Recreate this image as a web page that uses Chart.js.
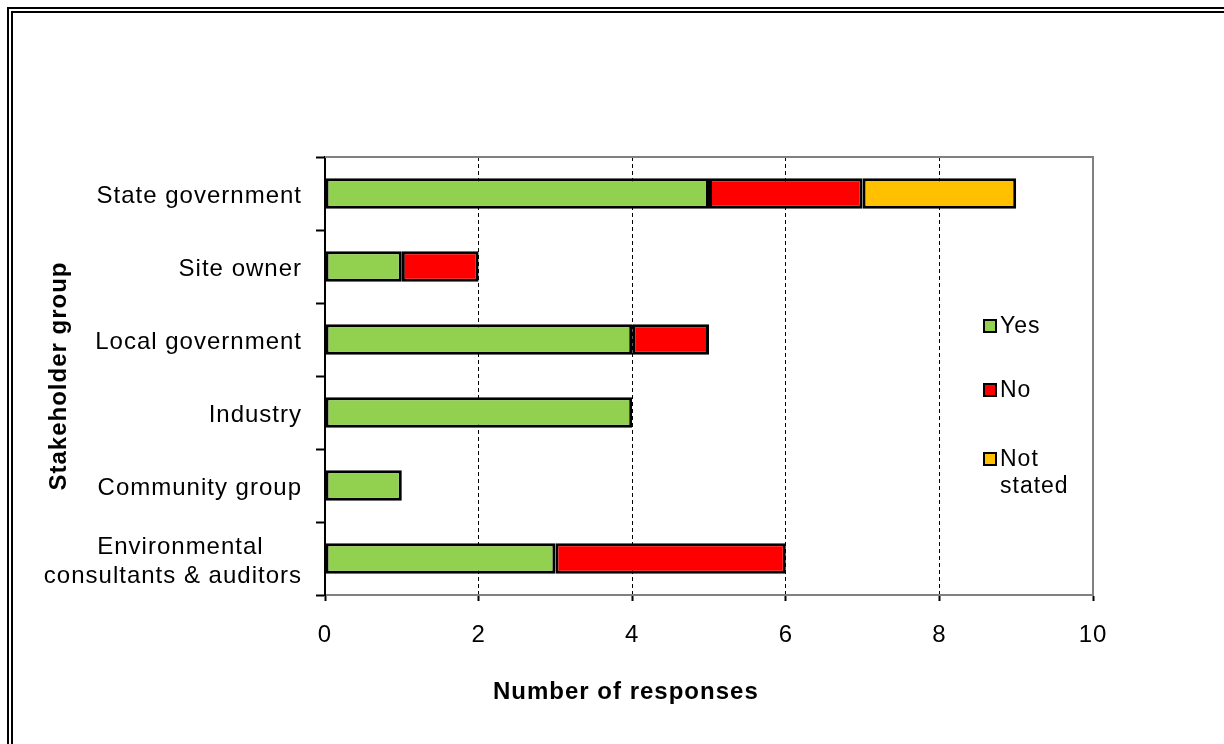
<!DOCTYPE html>
<html>
<head>
<meta charset="utf-8">
<script src="https://cdn.jsdelivr.net/npm/chart.js@4/dist/chart.umd.min.js"></script>
<style>
  html, body { margin: 0; padding: 0; background: #fff; }
  #wrap { position: relative; width: 1224px; height: 744px; overflow: hidden; font-family: "Liberation Sans", Arial, sans-serif; }
  #frame { position: absolute; left: 7px; top: 7px; width: 1300px; height: 800px;
           border-top: 6px double #000; border-left: 6px double #000; }
  .leg { position: absolute; left: 983px; font-size: 23px; line-height: 27px; letter-spacing: 1px; color: #000; }
  .leg i { position: absolute; left: 0; top: 7px; width: 10px; height: 10px; border: 2px solid #000; }
  .leg span { display: block; margin-left: 17px; }
  #xtitle { position: absolute; left: 493px; top: 677px; font-size: 24px; font-weight: bold; line-height: 28px; letter-spacing: 1px; }
</style>
</head>
<body>
<div id="wrap">
  <canvas id="chart" width="1224" height="744"></canvas>
  <div id="frame"></div>
  <div id="legend"></div>
  <div id="xtitle">Number of responses</div>
</div>
<script>
// categories (top to bottom)
const categories = [
    "State government",
    "Site owner",
    "Local government",
    "Industry",
    "Community group",
    ["Environmental", "consultants & auditors"]
];

// series values (null = no segment)
const yesValues = [5, 1, 4, 4, 1, 3];
const noValues = [2, 1, 1, null, null, 3];
const notStatedValues = [2, null, null, null, null, null];

const seriesNames = ["Yes", "No", "Not stated"];
const seriesColors = ["#92D050", "#FF0000", "#FFC000"];

// x tick labels
const xTicks = [0, 2, 4, 6, 8, 10];

const FONT = "'Liberation Sans', Arial, sans-serif";

// letter spacing like the original
const spacingPlugin = {
    id: 'spacing',
    beforeLayout(chart) { chart.ctx.letterSpacing = '1px'; },
    beforeDraw(chart) { chart.ctx.letterSpacing = '1px'; }
};

// gray frame around the plot area
const framePlugin = {
    id: 'frame',
    afterDatasetsDraw(chart) {
        const a = chart.chartArea;
        const ctx = chart.ctx;
        ctx.save();
        ctx.strokeStyle = '#808080';
        ctx.lineWidth = 2;
        ctx.beginPath();
        ctx.moveTo(a.left, a.top);
        ctx.lineTo(a.right, a.top);
        ctx.lineTo(a.right, a.bottom);
        ctx.stroke();
        ctx.restore();
    }
};

const ctx = document.getElementById('chart').getContext('2d');
const chart = new Chart(ctx, {
    type: 'bar',
    data: {
        labels: categories,
        datasets: [
            { label: seriesNames[0], data: yesValues, backgroundColor: seriesColors[0], borderColor: '#000', borderWidth: 3, borderSkipped: false },
            { label: seriesNames[1], data: noValues, backgroundColor: seriesColors[1], borderColor: '#000', borderWidth: 3, borderSkipped: false },
            { label: seriesNames[2], data: notStatedValues, backgroundColor: seriesColors[2], borderColor: '#000', borderWidth: 3, borderSkipped: false }
        ]
    },
    options: {
        indexAxis: 'y',
        responsive: false,
        animation: false,
        barPercentage: 0.42,
        categoryPercentage: 1,
        layout: { padding: { top: 157, right: 131, left: 0, bottom: 0 } },
        plugins: {
            legend: { display: false },
            tooltip: { enabled: false }
        },
        scales: {
            x: {
                stacked: true,
                min: 0,
                max: 10,
                afterBuildTicks: s => { s.ticks = xTicks.map(v => ({ value: v })); },
                afterFit: s => { s.height = 744 - 595; },
                ticks: { color: '#000', font: { family: FONT, size: 24 }, padding: 20, maxRotation: 0 },
                grid: {
                    color: c => (c.tick && c.tick.value > 0 && c.tick.value < 10) ? '#000' : 'rgba(0,0,0,0)',
                    lineWidth: 1,
                    tickColor: '#000',
                    tickLength: 6,
                    tickWidth: 2
                },
                border: { display: true, color: '#808080', width: 2, dash: [4, 3] }
            },
            y: {
                stacked: true,
                afterFit: s => { s.width = 325; },
                ticks: {
                    color: '#000',
                    font: { family: FONT, size: 24 },
                    padding: 14,
                    labelOffset: 3,
                    // the original centres the two-line label, so pad the shorter line
                    callback: function (v) {
                        const l = this.getLabelForValue(v);
                        return Array.isArray(l) ? [l[0] + '\u00a0\u00a0\u00a0\u00a0\u00a0', l[1]] : l;
                    }
                },
                grid: {
                    offset: true,
                    drawOnChartArea: false,
                    tickColor: '#000',
                    tickLength: 9,
                    tickWidth: 2
                },
                border: { display: true, color: '#000', width: 2 },
                title: {
                    display: true,
                    text: 'Stakeholder group',
                    color: '#000',
                    font: { family: FONT, size: 24, weight: 'bold' },
                    padding: { top: 45, bottom: 0 }
                }
            }
        }
    },
    plugins: [spacingPlugin, framePlugin]
});

// legend placed inside the plot like the original
const legendTops = [312, 376, 445];
const legendTexts = ["Yes", "No", "Not<br>stated"];
const legendEl = document.getElementById('legend');
seriesNames.forEach((name, i) => {
    const d = document.createElement('div');
    d.className = 'leg';
    d.style.top = legendTops[i] + 'px';
    d.innerHTML = '<i style="background:' + seriesColors[i] + '"></i><span>' + legendTexts[i] + '</span>';
    legendEl.appendChild(d);
});
</script>
</body>
</html>
